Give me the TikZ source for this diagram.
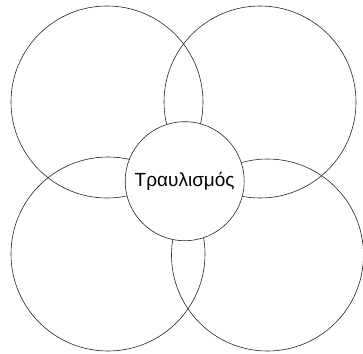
\documentclass[tikz,border=0pt]{standalone}
\usepackage{fontspec}
\setmainfont{Liberation Sans}
\begin{document}
\begin{tikzpicture}[x=1pt,y=-1pt,
  bigc/.style={circle,draw=black!85,line width=0.6pt,inner sep=0pt},
  midc/.style={circle,draw=black!85,fill=white,line width=0.6pt,inner sep=0pt,font=\fontsize{19}{23}\selectfont}]
\useasboundingbox (0,0) rectangle (363,353);
\node[bigc,minimum size=192pt] (tl) at (107,102) {};
\node[bigc,minimum size=192pt] (tr) at (260,102) {};
\node[bigc,minimum size=194pt] (bl) at (108,254) {};
\node[bigc,minimum size=192pt] (br) at (267.5,255) {};
\node[midc,minimum size=119pt] (c) at (184.7,181.2) {Τραυλισμός};
\end{tikzpicture}
\end{document}
